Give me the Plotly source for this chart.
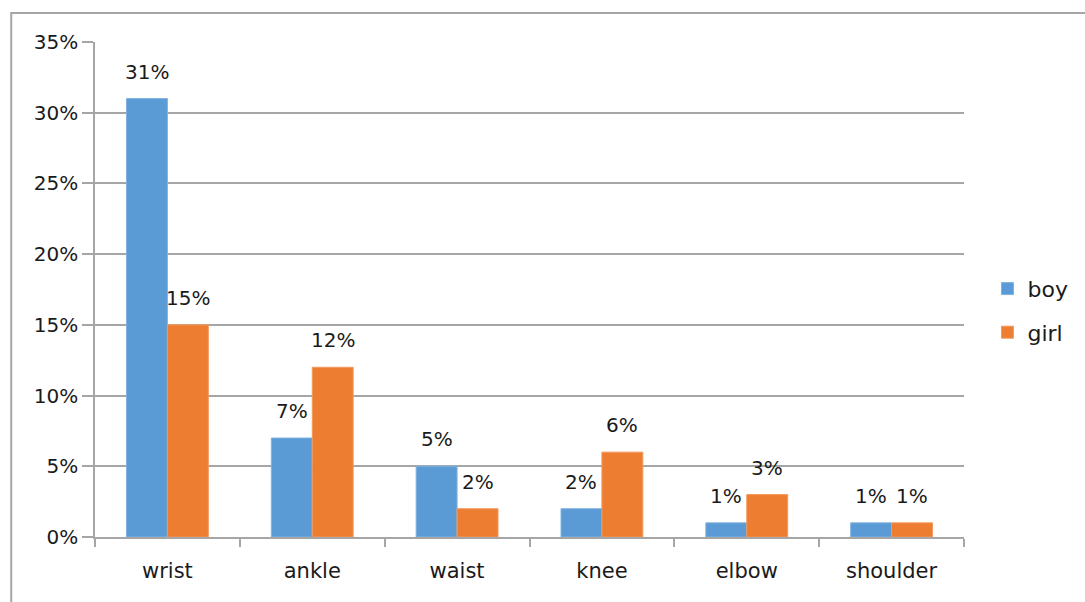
import plotly.graph_objects as go

categories = ["wrist", "ankle", "waist", "knee", "elbow", "shoulder"]
boy = [0.31, 0.07, 0.05, 0.02, 0.01, 0.01]
girl = [0.15, 0.12, 0.02, 0.06, 0.03, 0.01]
y_ticks = [0, 0.05, 0.10, 0.15, 0.20, 0.25, 0.30, 0.35]

BLUE = "#5B9BD5"
ORANGE = "#ED7D31"
GRID = "#A6A6A6"
TEXT = "#1a1a1a"
FONT = "DejaVu Sans"

fig = go.Figure()
fig.add_trace(go.Bar(name="boy", legendgroup="boy", x=categories, y=boy,
                     marker=dict(color=BLUE, line=dict(color="#7FB2E0", width=1))))
fig.add_trace(go.Bar(name="girl", legendgroup="girl", x=categories, y=girl,
                     marker=dict(color=ORANGE, line=dict(color="#F29A5E", width=1))))

annotations = []
for vals, shift in ((boy, -20.5), (girl, 20.5)):
    for c, v in zip(categories, vals):
        annotations.append(dict(x=c, y=v, xref="x", yref="y", text=f"{round(v*100)}%",
                                showarrow=False, xshift=shift, yshift=27, yanchor="middle",
                                font=dict(family=FONT, size=20, color=TEXT)))

fig.update_layout(
    width=1085, height=602,
    margin=dict(l=95, r=119, t=42, b=65),
    paper_bgcolor="white", plot_bgcolor="white",
    barmode="group", bargap=0.435, bargroupgap=0,
    font=dict(family=FONT, size=20, color=TEXT),
    showlegend=True,
    legend=dict(x=1.027, y=0.457, xanchor="left", yanchor="middle",
                font=dict(family=FONT, size=22, color=TEXT),
                tracegroupgap=12, itemwidth=30),
    annotations=annotations,
    shapes=[dict(type="rect", xref="paper", yref="paper",
                 x0=-0.0964, x1=1.3, y0=-0.2, y1=1.0586,
                 line=dict(color=GRID, width=2), layer="below")],
)
fig.update_yaxes(range=[0, 0.35], tickvals=y_ticks, tickformat=".0%",
                 showgrid=True, gridcolor=GRID, gridwidth=1.5,
                 showline=True, linecolor=GRID, linewidth=1.5,
                 ticks="outside", ticklen=11, tickcolor=GRID, tickwidth=1.5,
                 zeroline=False, tickfont=dict(size=20))
fig.update_xaxes(showline=True, linecolor=GRID, linewidth=1.5,
                 ticks="outside", ticklen=8, tickcolor=GRID, tickwidth=1.5,
                 tickson="boundaries", tickfont=dict(size=21), ticklabelstandoff=14)

fig.write_html("out.html")
